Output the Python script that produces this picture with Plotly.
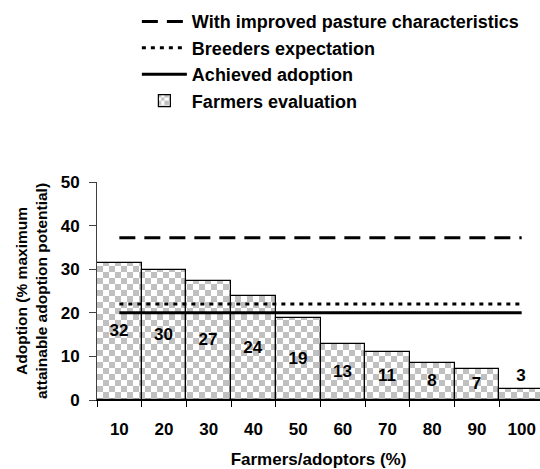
import plotly.graph_objects as go

categories = ["10", "20", "30", "40", "50", "60", "70", "80", "90", "100"]
farmers_eval = [31.5, 29.8, 27.4, 23.8, 18.9, 12.8, 10.9, 8.4, 7.0, 2.6]
bar_labels = ["32", "30", "27", "24", "19", "13", "11", "8", "7", "3"]
improved = [37.2, 37.2, 37.2, 37.2, 37.2, 37.2, 37.2, 37.2, 37.2, 37.2]
breeders = [22, 22, 22, 22, 22, 22, 22, 22, 22, 22]
achieved = [20, 20, 20, 20, 20, 20, 20, 20, 20, 20]

FONT = "Liberation Sans, Arial, sans-serif"
bold16 = dict(family=FONT, size=16, color="black", weight="bold")
bold17 = dict(family=FONT, size=17, color="black", weight="bold")

fig = go.Figure()

fig.add_trace(go.Bar(
    x=categories, y=farmers_eval, name="Farmers evaluation",
    text=bar_labels,
    textposition=["inside"] * 9 + ["outside"],
    insidetextanchor="middle",
    textangle=0,
    constraintext="none",
    textfont=bold17, insidetextfont=bold17, outsidetextfont=bold17,
    cliponaxis=False,
    marker=dict(
        color="white",
        line=dict(color="black", width=1.2),
        pattern=dict(
            path="M0,0H6V6H0Z M6,6H12V12H6Z",
            size=12, fgcolor="#c0c0c0", bgcolor="white",
            fgopacity=1, fillmode="replace",
        ),
    ),
    legendrank=4,
))

fig.add_trace(go.Scatter(
    x=categories, y=improved, mode="lines", name="With improved pasture characteristics",
    line=dict(color="black", width=3, dash="16px,9px"), legendrank=1,
))
fig.add_trace(go.Scatter(
    x=categories, y=breeders, mode="lines", name="Breeders expectation",
    line=dict(color="black", width=3, dash="4px,5px"), legendrank=2,
))
fig.add_trace(go.Scatter(
    x=categories, y=achieved, mode="lines", name="Achieved adoption",
    line=dict(color="black", width=3), legendrank=3,
))

fig.update_layout(
    width=540, height=469,
    margin=dict(l=97, r=0, t=182, b=69),
    paper_bgcolor="white", plot_bgcolor="white",
    bargap=0,
    font=dict(family=FONT, size=16, color="black"),
    showlegend=True,
    legend=dict(
        x=0.09, y=1.82, xanchor="left", yanchor="top",
        font=dict(family=FONT, size=18, color="black", weight="bold"),
        itemwidth=45, traceorder="normal", tracegroupgap=0,
        bgcolor="rgba(0,0,0,0)",
    ),
    xaxis=dict(
        type="category", range=[-0.5, 9.41], automargin=False,
        tickson="boundaries", ticks="outside", ticklen=6, tickcolor="black",
        ticklabelstandoff=14,
        showline=True, linecolor="black", linewidth=1,
        showgrid=False, zeroline=False,
        tickfont=bold17,
        title=dict(text="Farmers/adoptors (%)", font=bold17, standoff=17),
    ),
    yaxis=dict(
        range=[0, 50], dtick=10, automargin=False,
        ticks="outside", ticklen=7, tickcolor="#404040",
        ticklabelstandoff=6,
        showline=True, linecolor="#404040", linewidth=1,
        showgrid=False, zeroline=False,
        tickfont=bold17,
        title=dict(text="Adoption (% maximum<br>attainable adoption potential)",
                   font=dict(family=FONT, size=15.5, color="black", weight="bold"),
                   standoff=9),
    ),
)

fig.write_html("out.html", config={"displayModeBar": False},
               post_script="document.body.style.margin='0';")
